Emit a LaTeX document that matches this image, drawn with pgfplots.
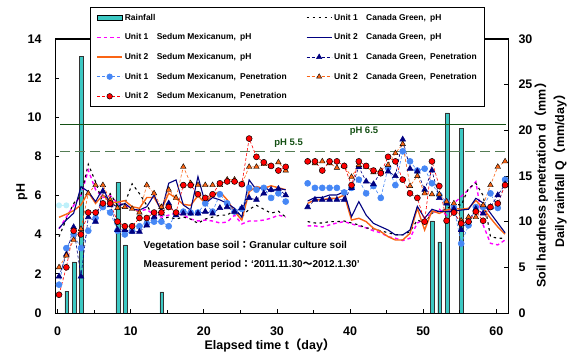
\documentclass[border=0pt]{standalone}
\usepackage{fontspec}
\setmainfont{Liberation Sans}
\newfontfamily\cjk{Noto Sans CJK JP}
\usepackage{pgfplots}
\pgfplotsset{compat=1.18}
\usepackage{pgfplotstable}

\definecolor{barc}{RGB}{60,200,195}
\definecolor{magc}{RGB}{255,0,255}
\definecolor{orac}{RGB}{250,100,20}
\definecolor{bluec}{RGB}{70,135,245}
\definecolor{redc}{RGB}{255,0,0}
\definecolor{navc}{RGB}{0,0,128}
\definecolor{grnA}{RGB}{20,80,20}
\definecolor{grnB}{RGB}{85,125,85}
\definecolor{cyanl}{RGB}{190,240,250}

% pH: x, Unit1 Sedum, Unit2 Sedum, Unit1 Canada, Unit2 Canada
\pgfplotstableread{
x u1s u2s u1c u2c
0.2 4.30 4.89 3.90 4.33
1.2 4.90 5.05 4.80 4.75
2.2 5.50 5.23 5.60 5.10
3.2 6.00 5.52 6.00 6.46
4.2 7.30 6.17 7.60 6.20
5.2 6.30 5.60 6.70 5.69
6.2 5.90 6.03 5.60 6.37
7.2 6.00 5.66 6.10 5.60
8.2 5.60 5.66 5.50 5.43
9.2 5.50 5.74 5.60 5.60
10.2 5.30 5.43 6.60 5.30
11.2 5.20 5.35 6.10 5.26
12.2 5.30 5.90 5.50 5.43
13.2 5.00 5.90 4.90 6.03
14.2 4.90 5.26 4.80 5.18
15.2 5.00 6.12 4.90 6.63
16.2 5.10 5.86 4.80 6.80
17.2 5.00 5.55 4.90 5.52
18.2 4.80 5.50 4.80 5.26
19.2 4.70 6.00 4.58 6.97
20.2 4.75 5.60 4.80 5.60
21.2 4.70 6.05 4.90 5.90
22.2 4.60 6.20 5.00 5.78
23.2 4.65 5.78 5.00 5.60
24.2 5.00 5.18 5.26 5.35
25.2 4.55 4.75 4.92 4.90
26.2 4.70 6.20 5.30 6.80
27.2 4.70 6.46 5.50 6.29
28.2 4.75 6.37 5.30 6.46
29.2 4.84 6.50 5.10 6.20
30.2 5.00 6.40 5.20 6.37
31.2 4.90 6.30 4.90 6.29
32.7 nan nan nan nan
34.2 4.45 5.60 4.67 5.72
35.2 4.45 5.78 4.60 5.90
36.2 4.40 5.78 4.60 5.90
37.2 4.50 5.86 4.67 6.03
38.2 4.60 5.86 4.67 6.03
39.2 4.67 6.03 4.70 6.20
40.2 4.55 4.75 4.60 4.92
41.2 4.45 4.84 4.50 5.69
42.2 4.35 4.67 4.35 5.00
43.2 4.20 4.33 4.30 4.58
44.2 4.10 4.16 4.20 4.41
45.2 3.90 3.90 4.10 4.24
46.2 3.82 3.73 4.00 3.99
47.2 3.70 3.73 3.99 3.99
48.2 3.82 4.07 4.16 4.24
49.2 4.60 5.35 4.75 5.45
50.2 4.80 4.24 4.60 4.84
51.2 5.10 5.22 5.10 5.30
52.2 5.30 5.09 5.20 5.18
53.2 5.00 5.26 5.30 5.18
54.2 5.60 5.35 5.60 5.20
55.2 5.95 5.30 5.50 5.26
56.2 6.30 5.35 6.37 5.30
57.2 6.71 5.75 6.63 5.86
58.2 4.50 5.35 6.00 5.62
59.2 3.56 4.85 3.90 5.10
60.2 3.48 4.40 3.82 4.60
61.2 3.73 4.03 3.82 4.10
}\phtable

% Penetration (mm): x, Unit1 Sedum, Unit2 Sedum, Unit1 Canada, Unit2 Canada
\pgfplotstableread{
x u1s u2s u1c u2c
0.2 3.1 2.0 4.0 5.0
1.2 7.1 5.0 6.4 6.3
2.2 8.6 9.0 9.4 8.0
3.2 7.1 8.6 4.0 9.2
4.2 9.0 11.0 10.5 13.1
5.2 10.4 11.0 10.0 14.0
6.2 11.6 12.0 13.3 14.0
7.2 11.0 12.0 11.8 12.4
8.2 9.0 10.0 9.1 11.5
9.2 8.6 9.5 9.1 11.6
10.2 9.0 9.5 8.9 11.4
11.2 9.5 10.4 8.9 11.0
12.2 9.8 10.4 9.6 14.0
13.2 10.0 11.0 10.5 13.1
14.2 10.0 11.0 10.9 11.6
15.2 9.5 11.6 12.0 13.5
16.2 10.9 11.0 10.7 12.6
17.2 11.1 14.0 10.9 16.0
18.2 11.0 14.0 10.9 14.2
19.2 11.0 13.0 10.9 14.0
20.2 12.0 12.6 11.1 14.0
21.2 11.1 13.0 10.9 14.0
22.2 13.0 14.2 11.5 14.0
23.2 12.0 14.4 11.6 14.6
24.2 11.1 14.4 11.1 14.6
25.2 11.4 14.1 11.5 14.1
26.2 13.7 19.1 12.6 16.0
27.2 13.5 17.1 12.4 16.0
28.2 13.7 16.5 13.1 16.3
29.2 12.6 16.1 13.5 16.1
30.2 13.1 15.6 13.6 16.5
31.2 12.2 16.0 12.9 15.6
32.7 nan nan nan nan
34.2 14.2 16.6 11.6 16.6
35.2 13.7 16.6 12.4 16.4
36.2 13.7 15.6 12.4 16.6
37.2 13.7 16.6 12.4 16.4
38.2 13.7 16.6 12.4 15.9
39.2 13.2 16.1 12.4 16.1
40.2 13.7 14.0 13.7 14.9
41.2 14.6 16.6 16.0 16.2
42.2 13.1 16.1 14.4 16.0
43.2 13.9 15.6 14.1 15.4
44.2 12.6 15.3 15.5 15.6
45.2 15.9 17.1 15.5 16.2
46.2 14.0 16.6 15.0 17.5
47.2 17.7 14.6 19.0 18.5
48.2 16.6 13.1 15.8 13.9
49.2 15.6 12.6 15.5 15.0
50.2 15.8 10.0 13.5 13.1
51.2 14.2 16.6 15.6 13.0
52.2 12.9 13.9 12.6 13.0
53.2 12.2 10.1 12.0 12.2
54.2 11.5 11.0 11.4 12.0
55.2 7.6 9.8 9.1 10.1
56.2 9.6 10.0 10.1 10.5
57.2 11.6 11.1 11.4 10.5
58.2 11.6 10.1 10.9 11.8
59.2 13.1 11.6 11.6 14.0
60.2 11.5 12.0 12.9 16.0
61.2 14.6 14.0 14.1 16.6
}\pentable

\pgfplotsset{
  mylinelegend/.style={legend image code/.code={\draw[mark repeat=2,mark phase=2,##1] plot coordinates {(0bp,0bp) (12.5bp,0bp) (25bp,0bp)};}},
  rainlegend/.style={legend image code/.code={\draw[##1] (0bp,-2.2bp) rectangle (25bp,2.2bp);}},
}

\begin{document}
\begin{tikzpicture}
\useasboundingbox (0,0) rectangle (574bp,352bp);
\pgfplotsset{every axis/.append style={scale only axis, width=453bp, height=274bp,
  at={(55bp,39bp)}, anchor=south west, xmin=-0.35, xmax=61.6,
  /pgf/number format/assume math mode=true,
  ticklabel style={font=\bfseries\fontsize{12.5}{13}\selectfont},
  tick align=inside, major tick length=4bp, minor tick length=3bp,
  axis line style={line width=1pt}, tick style={line width=0.8pt, black},
  unbounded coords=jump}}

% rainfall bars (right scale, mm/day)
\begin{axis}[hide axis, ymin=0, ymax=30]
\addplot[ybar, bar width=0.52, fill=barc, draw=black!80, line width=0.4pt]
  coordinates {(1.25,2.4) (2.25,5.6) (3.25,28.1) (8.25,14.3) (9.25,7.45) (14.25,2.3)
               (51.25,10.1) (52.25,7.8) (53.25,21.9) (55.25,20.2)};
\end{axis}

% pH axis
\begin{axis}[ymin=0, ymax=14, ytick={0,2,...,14}, xtick={0,10,...,60}, minor x tick num=1,
  xtick pos=left, ytick pos=left,
  xticklabel style={yshift=-10bp}, yticklabel style={xshift=-10bp}]
\addplot[grnA, line width=0.9pt] coordinates {(0.4,9.65) (61.3,9.65)};
\addplot[grnB, line width=1pt, dash pattern=on 10bp off 5bp] coordinates {(0.4,8.24) (61.3,8.24)};
\addplot[cyanl, line width=1pt, mark=*, mark size=2.5bp] coordinates {(0.2,5.5) (1.2,5.5)};
\addplot[magc, line width=1.4pt, dash pattern=on 3.5bp off 3bp] table[x=x,y=u1s]{\phtable};
\addplot[black, line width=1.1pt, dash pattern=on 2.5bp off 3.5bp] table[x=x,y=u1c]{\phtable};
\addplot[orac, line width=1.4pt] table[x=x,y=u2s]{\phtable};
\addplot[navc, line width=1.1pt] table[x=x,y=u2c]{\phtable};
\node[anchor=west, font=\bfseries\fontsize{10}{11}\selectfont] at (axis cs:11.3,3.42)
  {Vegetation base soil{\cjk\bfseries ：}Granular culture soil};
\node[anchor=west, font=\bfseries\fontsize{10}{11}\selectfont] at (axis cs:11.3,2.45)
  {Measurement period{\cjk\bfseries ：}‘2011.11.30{\cjk\bfseries ～}2012.1.30’};
\node[grnA, font=\bfseries\fontsize{9.5}{11}\selectfont] at (axis cs:31.6,8.69) {pH 5.5};
\node[grnA, font=\bfseries\fontsize{9.5}{11}\selectfont] at (axis cs:41.9,9.30) {pH 6.5};
\end{axis}

% penetration axis (right)
\begin{axis}[ymin=0, ymax=30, ytick={0,5,...,30}, xtick=\empty, ytick pos=right,
  yticklabel style={xshift=7bp},
  mylinelegend,
  legend columns=2,
  legend cell align=left,
  legend style={at={(0.077,1.117)}, anchor=north west, draw=black, line width=1.2pt, fill=white,
    font=\bfseries\fontsize{8.5}{9}\selectfont, row sep=8bp, inner xsep=6bp, inner ysep=4.5bp,
    /tikz/every even column/.append style={column sep=17.4bp}}]
\addplot[forget plot, bluec, line width=0.6pt, dash pattern=on 3bp off 2bp, mark=*, mark size=3bp,
  mark options={solid, fill=bluec, draw=bluec}] table[x=x,y=u1s]{\pentable};
\addplot[forget plot, navc, line width=0.6pt, dash pattern=on 3bp off 2bp, mark=triangle*, mark size=3.3bp,
  mark options={solid, fill=navc, draw=navc}] table[x=x,y=u1c]{\pentable};
\addplot[forget plot, orac, line width=0.6pt, dash pattern=on 3bp off 2bp, mark=triangle*, mark size=3.2bp,
  mark options={solid, fill=orac, draw=black, line width=0.4pt}] table[x=x,y=u2c]{\pentable};
\addplot[forget plot, redc, line width=0.6pt, dash pattern=on 3bp off 2bp, mark=*, mark size=3bp,
  mark options={solid, fill=redc, draw=black, line width=0.5pt}] table[x=x,y=u2s]{\pentable};

\addlegendimage{rainlegend, fill=barc, draw=black, line width=0.8pt}
\addlegendentry{Rainfall}
\addlegendimage{black, line width=1.1pt, dash pattern=on 2.5bp off 3.5bp}
\addlegendentry{Unit 1\hspace{1em}Canada Green,\hspace{0.5em}pH}
\addlegendimage{magc, line width=1.4pt, dash pattern=on 3.5bp off 3bp}
\addlegendentry{Unit 1\hspace{1em}Sedum Mexicanum,\hspace{0.5em}pH}
\addlegendimage{navc, line width=1.1pt}
\addlegendentry{Unit 2\hspace{1em}Canada Green,\hspace{0.5em}pH}
\addlegendimage{orac, line width=1.4pt}
\addlegendentry{Unit 2\hspace{1em}Sedum Mexicanum,\hspace{0.5em}pH}
\addlegendimage{navc, line width=0.6pt, dash pattern=on 3bp off 2bp, mark=triangle*, mark size=3bp, mark options={solid, fill=navc}}
\addlegendentry{Unit 1\hspace{1em}Canada Green,\hspace{0.5em}Penetration}
\addlegendimage{bluec, line width=0.6pt, dash pattern=on 3bp off 2bp, mark=*, mark size=2.8bp, mark options={solid, fill=bluec, draw=bluec}}
\addlegendentry{Unit 1\hspace{1em}Sedum Mexicanum,\hspace{0.5em}Penetration}
\addlegendimage{orac, line width=0.6pt, dash pattern=on 3bp off 2bp, mark=triangle*, mark size=3bp, mark options={solid, fill=orac, draw=black, line width=0.4pt}}
\addlegendentry{Unit 2\hspace{1em}Canada Green,\hspace{0.5em}Penetration\hspace{27bp}}
\addlegendimage{redc, line width=0.6pt, dash pattern=on 3bp off 2bp, mark=*, mark size=2.8bp, mark options={solid, fill=redc, draw=black, line width=0.5pt}}
\addlegendentry{Unit 2\hspace{1em}Sedum Mexicanum,\hspace{0.5em}Penetration}
\end{axis}

% axis labels
\node[rotate=90, font=\bfseries\fontsize{12.5}{13}\selectfont] at (22bp,160bp) {pH};
\node[font=\bfseries\fontsize{12.5}{13}\selectfont] at (270bp,7bp) {Elapsed time t{\cjk\bfseries （}day{\cjk\bfseries ）}};
\node[rotate=90, font=\bfseries\fontsize{12.5}{13}\selectfont] at (541.5bp,170bp) {Soil hardness penetration d{\cjk\bfseries （}mm{\cjk\bfseries ）}};
\node[rotate=90, font=\bfseries\fontsize{12.5}{13}\selectfont] at (560bp,184bp) {Daily rainfall Q{\cjk\bfseries （}mm/day{\cjk\bfseries ）}};
\end{tikzpicture}
\end{document}
